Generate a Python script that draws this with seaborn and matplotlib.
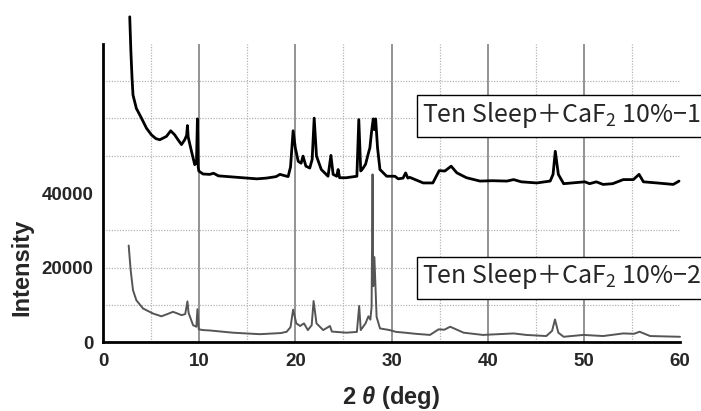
import matplotlib
matplotlib.use("Agg")
import matplotlib.pyplot as plt
import seaborn as sns
import pandas as pd
from matplotlib.patches import Rectangle

# XRD pattern, sample 1 (2θ in degrees, intensity in counts)
two_theta_1 = [2.78, 2.90, 3.02, 3.12, 3.47, 4.00, 4.52, 5.04, 5.50, 5.90, 6.30, 6.60,
               7.04, 7.46, 7.80, 8.16, 8.50, 8.70, 8.78, 8.86, 9.20, 9.54, 9.72, 9.82,
               9.90, 9.96, 10.4, 11.1, 11.5, 12.0, 13.5, 15.0, 16.0, 17.0, 18.0, 18.4,
               19.25, 19.5, 19.77, 20.0, 20.3, 20.6, 20.8, 21.1, 21.5, 21.75, 21.96, 22.2,
               22.7, 23.4, 23.7, 23.93, 24.3, 24.45, 24.6, 25.3, 26.4, 26.6, 26.8, 27.0,
               27.3, 27.6, 27.75, 27.93, 28.1, 28.22, 28.35, 28.55, 28.8, 29.5, 30.35, 30.7,
               31.2, 31.47, 31.7, 31.9, 33.3, 34.3, 34.96, 35.55, 36.2, 36.8, 37.8, 39.2,
               40.5, 42.0, 42.7, 43.5, 45.1, 46.5, 46.8, 47.03, 47.35, 47.9, 50.1, 50.6,
               51.3, 52.0, 53.0, 54.1, 55.15, 55.74, 56.2, 57.6, 59.3, 59.9]
intensity_1 = [87300, 78000, 70800, 66300, 62700, 60100, 57400, 55600, 54600, 54300, 54800, 55200,
               56700, 55600, 54300, 53000, 54300, 55500, 58100, 55000, 51200, 47600, 48100, 59900,
               47000, 45900, 45100, 45000, 45300, 44600, 44300, 44000, 43800, 44000, 44400, 45000,
               44400, 47000, 56700, 52100, 48500, 48000, 49900, 47200, 46700, 49000, 60100, 49900,
               46300, 44500, 50100, 45000, 44500, 46300, 44100, 44100, 44500, 59700, 45900, 46500,
               47700, 50700, 52100, 56500, 59900, 57000, 59900, 52100, 46300, 44500, 44500, 43800,
               44000, 45400, 44000, 44200, 42700, 42700, 46000, 45900, 47200, 45400, 44100, 43200,
               43300, 43200, 43600, 43000, 42700, 43200, 45000, 51200, 45000, 42500, 43000, 42500,
               43000, 42300, 42500, 43600, 43600, 45000, 43000, 42700, 42300, 43200]

# XRD pattern, sample 2
two_theta_2 = [2.67, 2.88, 3.12, 3.47, 4.16, 5.20, 6.07, 6.70, 7.28, 7.80, 8.16, 8.55,
               8.78, 8.90, 9.37, 9.71, 9.82, 9.96, 10.4, 11.1, 13.5, 16.3, 18.5, 19.1,
               19.5, 19.77, 20.1, 20.5, 20.9, 21.3, 21.7, 21.9, 22.2, 22.9, 23.6, 23.8,
               25.3, 26.4, 26.64, 26.8, 27.3, 27.6, 27.8, 27.93, 28.03, 28.10, 28.22, 28.45,
               28.8, 29.8, 30.5, 31.4, 32.5, 34.0, 34.9, 35.5, 36.1, 37.5, 39.5, 42.7,
               44.0, 46.1, 46.7, 47.0, 47.35, 47.9, 49.95, 52.0, 54.1, 55.2, 55.8, 56.9, 60.0]
intensity_2 = [25900, 19200, 13900, 11200, 9000, 7650, 6900, 7500, 8100, 7600, 7200, 7500,
               10900, 7800, 4500, 4100, 8800, 3400, 3200, 3100, 2500, 2100, 2400, 2750,
               4000, 8700, 5000, 4300, 5000, 3200, 4500, 11000, 5000, 3200, 4300, 2800,
               2500, 2700, 9700, 3200, 5000, 6900, 6000, 9400, 45000, 15000, 22800, 6750,
               3650, 3200, 2700, 2500, 2200, 1900, 3400, 3300, 4100, 2500, 1900, 2300,
               1900, 1600, 3000, 6050, 2500, 1400, 1900, 1600, 2300, 2200, 2750, 1600, 1400]

series_labels = ["Ten Sleep＋CaF$_\\mathregular{2}$ 10%−1",
                 "Ten Sleep＋CaF$_\\mathregular{2}$ 10%−2"]

x_ticks = [0, 10, 20, 30, 40, 50, 60]
x_minor = [5, 15, 25, 35, 45, 55]
y_major = [0, 20000, 40000, 50000, 60000, 70000, 80000]
y_major_labels = ["0", "20000", "40000", "", "", "", ""]
y_minor = [10000, 30000, 45000, 55000, 65000, 75000]
h_dotted = [10000, 20000, 30000, 50000, 60000, 70000]

sns.set_style("white")
plt.rcParams["font.family"] = ["Liberation Sans", "DejaVu Sans"]
plt.rcParams["mathtext.fontset"] = "custom"
plt.rcParams["mathtext.it"] = "Liberation Sans:italic:bold"
plt.rcParams["mathtext.rm"] = "Liberation Sans:bold"

fig = plt.figure(figsize=(7.01, 4.11), dpi=100)
ax = fig.add_axes([103 / 701, (411 - 342) / 411, 577 / 701, 298 / 411])

# grid: solid every 10°, dotted at the 5° marks and selected intensities
for xv in x_minor:
    ax.axvline(xv, color="#b4b4b4", lw=0.9, ls=(0, (1, 1.2)), zorder=1)
for xv in x_ticks[1:-1]:
    ax.axvline(xv, color="#8a8a8a", lw=1.3, zorder=1)
for yv in h_dotted:
    ax.axhline(yv, color="#b4b4b4", lw=0.9, ls=(0, (1, 1.2)), zorder=1)

df1 = pd.DataFrame({"two_theta": two_theta_1, "intensity": intensity_1})
df2 = pd.DataFrame({"two_theta": two_theta_2, "intensity": intensity_2})
sns.lineplot(data=df2, x="two_theta", y="intensity", ax=ax, color="#555555",
             lw=1.4, estimator=None, sort=False, zorder=3)
sns.lineplot(data=df1, x="two_theta", y="intensity", ax=ax, color="#000000",
             lw=2.0, estimator=None, sort=False, zorder=4)
for ln in ax.lines[-2:]:
    ln.set_clip_on(False)

ax.set_xlim(0, 60)
ax.set_ylim(0, 80000)
ax.set_xticks(x_ticks)
ax.set_xticks(x_minor, minor=True)
ax.set_xticklabels([str(v) for v in x_ticks])
ax.set_yticks(y_major)
ax.set_yticks(y_minor, minor=True)
ax.set_yticklabels(y_major_labels)

for side in ["top", "right"]:
    ax.spines[side].set_visible(False)
for side in ["left", "bottom"]:
    ax.spines[side].set_linewidth(2.0)
    ax.spines[side].set_color("black")

ax.tick_params(which="major", direction="in", length=7, width=2, color="black")
ax.tick_params(which="minor", direction="in", length=4, width=2, color="black")
ax.tick_params(axis="both", which="major", labelsize=13.5)
ax.tick_params(axis="x", pad=8)
ax.tick_params(axis="y", pad=7)
for lab in ax.get_xticklabels() + ax.get_yticklabels():
    lab.set_fontweight("bold")

ax.set_xlabel("2 $\\theta$ (deg)", fontsize=17, fontweight="bold")
ax.set_ylabel("Intensity", fontsize=17, fontweight="bold")
ax.xaxis.set_label_coords(0.5, -0.14)
ax.yaxis.set_label_coords(-0.12, 0.25)

# series name boxes
for label, top_px, base_px in [(series_labels[0], 95, 122), (series_labels[1], 257, 282.7)]:
    fig.patches.append(Rectangle((417 / 701, 1 - (top_px + 42) / 411), 0.5, 42 / 411,
                                 transform=fig.transFigure, facecolor="white",
                                 edgecolor="black", lw=1.0, zorder=5))
    fig.text(422 / 701, 1 - base_px / 411, label, fontsize=18,
             family=["Noto Sans CJK JP", "DejaVu Sans"], ha="left", va="baseline",
             zorder=6)

fig.savefig("out.png", dpi=100)
